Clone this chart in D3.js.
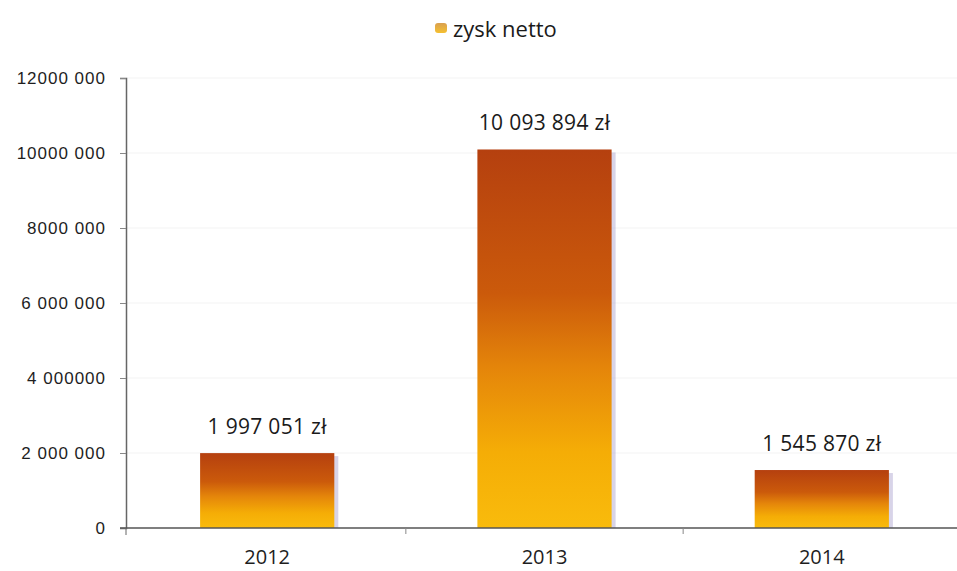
<!DOCTYPE html>
<html>
<head>
<meta charset="utf-8">
<script src="https://cdn.jsdelivr.net/npm/d3@7"></script>
<style>
  body { margin: 0; background: #fff; }
  svg { display: block; font-family: "Open Sans", "DejaVu Sans", sans-serif; }
</style>
</head>
<body>
<svg id="chart" width="957" height="571"></svg>
<script>
// Data
const years = ['2012', '2013', '2014'];
const profits = [1997051, 10093894, 1545870];
const valueLabels = ['1 997 051 zł', '10 093 894 zł', '1 545 870 zł'];
const tickValues = [0, 2000000, 4000000, 6000000, 8000000, 10000000, 12000000];
const tickLabels = ['0', '2 000 000', '4 000000', '6 000 000', '8000 000', '10000 000', '12000 000'];
const seriesName = 'zysk netto';

const svg = d3.select('#chart');
const margin = { top: 78, right: -2, bottom: 43, left: 126 };
const width = 957 - margin.left - margin.right;
const height = 571 - margin.top - margin.bottom;

// Gradient for bars (dark orange at top, yellow at bottom)
const defs = svg.append('defs');
const grad = defs.append('linearGradient')
    .attr('id', 'barGrad')
    .attr('x1', 0).attr('y1', 0).attr('x2', 0).attr('y2', 1);
grad.append('stop').attr('offset', '0%').attr('stop-color', '#b5400f');
grad.append('stop').attr('offset', '38%').attr('stop-color', '#cb5a0b');
grad.append('stop').attr('offset', '58%').attr('stop-color', '#e5860a');
grad.append('stop').attr('offset', '80%').attr('stop-color', '#f5ad06');
grad.append('stop').attr('offset', '100%').attr('stop-color', '#f9bb0c');

const legendGrad = defs.append('linearGradient')
    .attr('id', 'legendGrad')
    .attr('x1', 0).attr('y1', 0).attr('x2', 0).attr('y2', 1);
legendGrad.append('stop').attr('offset', '0%').attr('stop-color', '#d9a050');
legendGrad.append('stop').attr('offset', '100%').attr('stop-color', '#f5c030');

const g = svg.append('g').attr('transform', `translate(${margin.left},${margin.top})`);

const x = d3.scaleBand().domain(years).range([2, width + 2]).paddingInner(0.516).paddingOuter(0.26);
const y = d3.scaleLinear().domain([0, 12000000]).range([height, 0]);

// Faint grid
g.append('g')
    .selectAll('line')
    .data(tickValues.slice(1))
    .join('line')
    .attr('x1', 0).attr('x2', width)
    .attr('y1', d => y(d)).attr('y2', d => y(d))
    .attr('stroke', '#f3f3f3');

// Y axis
const yAxis = d3.axisLeft(y)
    .tickValues(tickValues)
    .tickFormat((d, i) => tickLabels[i])
    .tickSize(6)
    .tickPadding(14);
const yg = g.append('g').call(yAxis);
yg.select('.domain').attr('stroke', '#666').attr('stroke-width', 1.5);
yg.selectAll('.tick line').attr('stroke', '#888');
yg.selectAll('.tick text')
    .attr('font-size', 17)
    .attr('letter-spacing', 1)
    .attr('fill', '#1e1e1e');

// Bar shadows
g.selectAll('rect.shadow')
    .data(profits)
    .join('rect')
    .attr('class', 'shadow')
    .attr('x', (d, i) => x(years[i]) + 4)
    .attr('y', d => y(d) + 3)
    .attr('width', x.bandwidth())
    .attr('height', d => height - y(d) - 3)
    .attr('fill', '#b8b0d6')
    .attr('opacity', 0.55);

// Bars
g.selectAll('rect.bar')
    .data(profits)
    .join('rect')
    .attr('class', 'bar')
    .attr('x', (d, i) => x(years[i]))
    .attr('y', d => y(d))
    .attr('width', x.bandwidth())
    .attr('height', d => height - y(d))
    .attr('fill', 'url(#barGrad)');

// X axis with separators between categories
const xg = g.append('g').attr('transform', `translate(0,${height})`);
xg.append('line')
    .attr('x1', -6).attr('x2', width)
    .attr('stroke', '#555').attr('stroke-width', 1.5);
xg.selectAll('line.sep')
    .data(years.slice(1))
    .join('line')
    .attr('class', 'sep')
    .attr('x1', d => x(d) - x.step() * x.paddingInner() / 2)
    .attr('x2', d => x(d) - x.step() * x.paddingInner() / 2)
    .attr('y1', 0).attr('y2', 6)
    .attr('stroke', '#888');
xg.append('line').attr('x1', 0).attr('x2', 0).attr('y1', 0).attr('y2', 7).attr('stroke', '#666');
xg.selectAll('text')
    .data(years)
    .join('text')
    .attr('x', d => x(d) + x.bandwidth() / 2)
    .attr('y', 36)
    .attr('text-anchor', 'middle')
    .attr('font-size', 20)
    .attr('fill', '#1e1e1e')
    .text(d => d);

// Value labels above the bars
g.selectAll('text.val')
    .data(profits)
    .join('text')
    .attr('class', 'val')
    .attr('x', (d, i) => x(years[i]) + x.bandwidth() / 2)
    .attr('y', d => y(d) - 19)
    .attr('text-anchor', 'middle')
    .attr('font-size', 21)
    .attr('letter-spacing', 0.3)
    .attr('fill', '#1a1a1a')
    .text((d, i) => valueLabels[i]);

// Legend
const legend = svg.append('g').attr('transform', 'translate(435,23)');
legend.append('rect')
    .attr('width', 12).attr('height', 10).attr('rx', 3)
    .attr('fill', 'url(#legendGrad)');
legend.append('text')
    .attr('x', 18).attr('y', 14)
    .attr('font-size', 22)
    .attr('fill', '#1a1a1a')
    .text(seriesName);
</script>
</body>
</html>
